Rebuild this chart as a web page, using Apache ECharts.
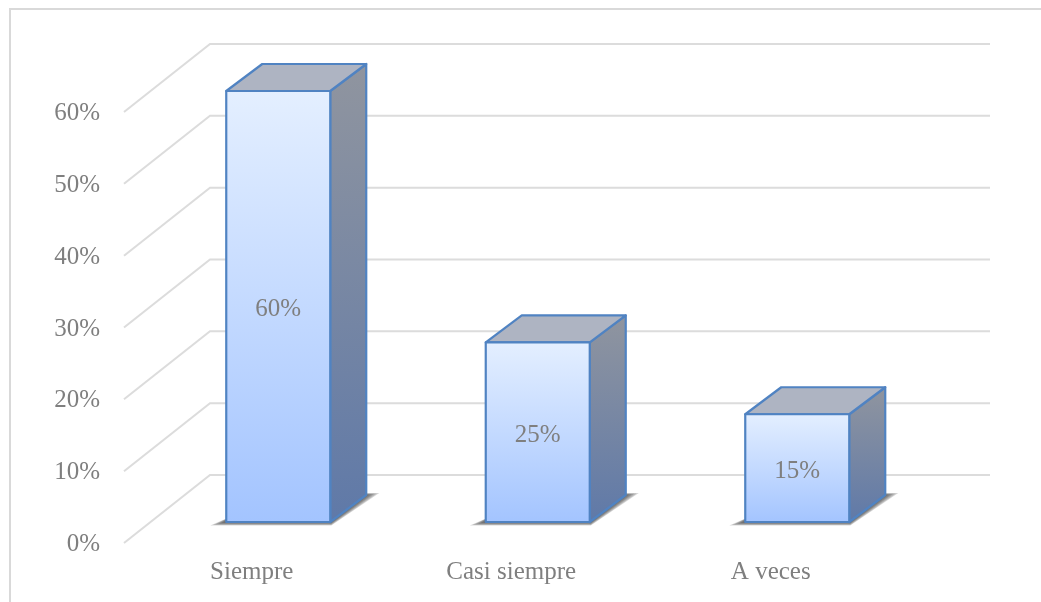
<!DOCTYPE html>
<html><head><meta charset="utf-8">
<style>html,body{margin:0;padding:0;background:#fff;overflow:hidden}#c{width:1041px;height:602px}</style>
<script src="https://cdn.jsdelivr.net/npm/echarts@6/dist/echarts.min.js"></script>
</head><body><div id="c"></div>
<script>
const categories = ['Siempre', 'Casi siempre', 'A veces'];
const values = [60, 25, 15];
const gridTicks = [0, 10, 20, 30, 40, 50, 60];

const FONT = '"Liberation Serif", serif';
const LINE = '#dcdcdc', TEXT = '#7f7f7f', EDGE = '#5083c2';
const wallDx = 86, wallDy = 68, wallW = 780;
const offX = 24.5, offY = 21, barW = 104, depX = 36, depY = 27;

const grad = (x, y, x2, y2, a, b) => new echarts.graphic.LinearGradient(x, y, x2, y2, [{offset: 0, color: a}, {offset: 1, color: b}]);

function gridItem(params, api) {
  const p = api.coord([0, api.value(0)]);
  const x0 = params.coordSys.x;
  const y = p[1];
  return {
    type: 'polyline', silent: true,
    shape: {points: [[x0, y], [x0 + wallDx, y - wallDy], [x0 + wallDx + wallW, y - wallDy]]},
    style: {stroke: LINE, lineWidth: 2, fill: null}
  };
}

function shadowLayers(l, r, b) {
  const out = [];
  for (let k = 0; k < 6; k++) {
    out.push({type: 'polygon', shape: {points: [
      [l - 2 - 2.8 * k, b + 0.5 + 0.6 * k], [r + 1, b + 0.5 + 0.6 * k],
      [r + depX + 1 + 2.4 * k, b - depY - 0.4 * k], [r + depX - 6, b - depY - 0.4 * k], [l + 6, b - 6]
    ]}, style: {fill: 'rgba(50,50,50,0.2)'}});
  }
  return out;
}

function barItem(params, api) {
  const top = api.coord([api.value(0), api.value(1)]);
  const base = api.coord([api.value(0), 0]);
  const l = top[0] + offX - barW / 2, r = l + barW;
  const t = top[1] - offY, b = base[1] - offY;
  const line = {stroke: EDGE, lineWidth: 2.2, lineJoin: 'round'};
  return {
    type: 'group',
    children: shadowLayers(l, r, b).concat([
      {type: 'polygon', shape: {points: [[r, t], [r + depX, t - depY], [r + depX, b - depY], [r, b]]},
        style: Object.assign({fill: grad(0, 0, 0, 1, '#90959f', '#5f79a8')}, line)},
      {type: 'polygon', shape: {points: [[l, t], [l + depX, t - depY], [r + depX, t - depY], [r, t]]},
        style: Object.assign({fill: '#aeb4c2'}, line)},
      {type: 'rect', shape: {x: l, y: t, width: barW, height: b - t},
        style: Object.assign({fill: grad(0, 0, 0, 1, '#e4efff', '#a3c4ff')}, line)},
      {type: 'text', x: (l + r) / 2, y: (t + b) / 2 + 3,
        style: {text: api.value(1) + '%', fill: TEXT, font: '25px ' + FONT, align: 'center', verticalAlign: 'middle'}}
    ])
  };
}

const chart = echarts.init(document.getElementById('c'), null, {renderer: 'canvas'});
chart.setOption({
  animation: false,
  backgroundColor: '#fff',
  graphic: [{type: 'polyline', z: -1, silent: true, shape: {points: [[10, 602], [10, 9], [1041, 9]]},
    style: {fill: 'none', stroke: '#d9d9d9', lineWidth: 2}}],
  grid: {left: 124, top: 112, width: 778.5, height: 431, containLabel: false},
  xAxis: {type: 'category', data: categories, axisLine: {show: false}, axisTick: {show: false},
    axisLabel: {color: TEXT, fontFamily: FONT, fontSize: 25, margin: 17, padding: [0, 4, 0, 0]}},
  yAxis: {type: 'value', min: 0, max: 60, interval: 10, splitLine: {show: false}, axisLine: {show: false}, axisTick: {show: false},
    axisLabel: {color: TEXT, fontFamily: FONT, fontSize: 25, margin: 24, verticalAlign: 'top', lineHeight: 3, formatter: '{value}%'}},
  series: [
    {type: 'custom', name: 'grid', data: gridTicks.map(v => [v]), renderItem: gridItem, encode: {y: 0}, z: 1, silent: true, clip: false},
    {type: 'custom', name: 'bars', data: categories.map((c, i) => [i, values[i]]), renderItem: barItem, encode: {x: 0, y: 1}, z: 2, silent: true, clip: false}
  ]
});
</script></body></html>
